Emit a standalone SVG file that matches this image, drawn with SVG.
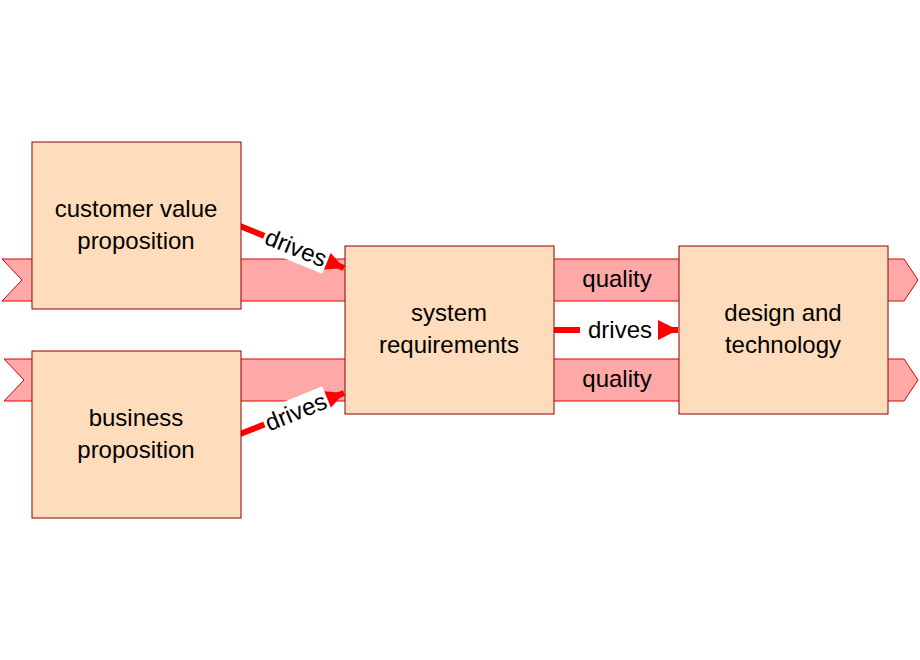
<svg xmlns="http://www.w3.org/2000/svg" width="920" height="660" viewBox="0 0 920 660">
<style>
.band{fill:#ffa8a8;stroke:#e00000;stroke-width:1}
.box{fill:#ffdcbc;stroke:#8b0000;stroke-width:1}
text{font-family:"Liberation Sans",Arial,sans-serif;font-size:24px;fill:#000;text-anchor:middle}
.c{stroke:#ff0000;stroke-width:6;fill:none;marker-end:url(#ah)}
</style>
<defs>
<marker id="ah" viewBox="0 0 10 10" refX="10" refY="5" markerWidth="3.5" markerHeight="3.5" markerUnits="strokeWidth" orient="auto"><path d="M0,0 L10,5 L0,10 z" fill="#ff0000"/></marker>
</defs>
<g id="bands">
<path class="band" d="M2,259 H904 L918,280 L904,301 H2 L22,280 Z"/>
<path class="band" d="M4,359 H904 L918,380 L904,401 H4 L24,380 Z"/>
<text x="617" y="287">quality</text>
<text x="617" y="387">quality</text>
</g>
<g id="connectors">
<path class="c" d="M240,226 L344,268"/>
<path class="c" d="M240,434 L344,393"/>
<path class="c" d="M553,330 L678,330"/>
<g transform="translate(296,248) rotate(22)"><rect x="-34" y="-14" width="68" height="28" fill="#fff"/><text x="0" y="8">drives</text></g>
<g transform="translate(296,412) rotate(-22)"><rect x="-34" y="-14" width="68" height="28" fill="#fff"/><text x="0" y="8">drives</text></g>
<rect x="580" y="316" width="78" height="28" fill="#fff"/><text x="620" y="338">drives</text>
</g>
<g id="cvp"><rect class="box" x="32" y="142" width="209" height="167"/><text x="136" y="217">customer value</text><text x="136" y="249">proposition</text></g>
<g id="bp"><rect class="box" x="32" y="351" width="209" height="167"/><text x="136" y="426">business</text><text x="136" y="458">proposition</text></g>
<g id="sr"><rect class="box" x="345" y="246" width="209" height="168"/><text x="449" y="321">system</text><text x="449" y="353">requirements</text></g>
<g id="dt"><rect class="box" x="679" y="246" width="209" height="168"/><text x="783" y="321">design and</text><text x="783" y="353">technology</text></g>
</svg>
